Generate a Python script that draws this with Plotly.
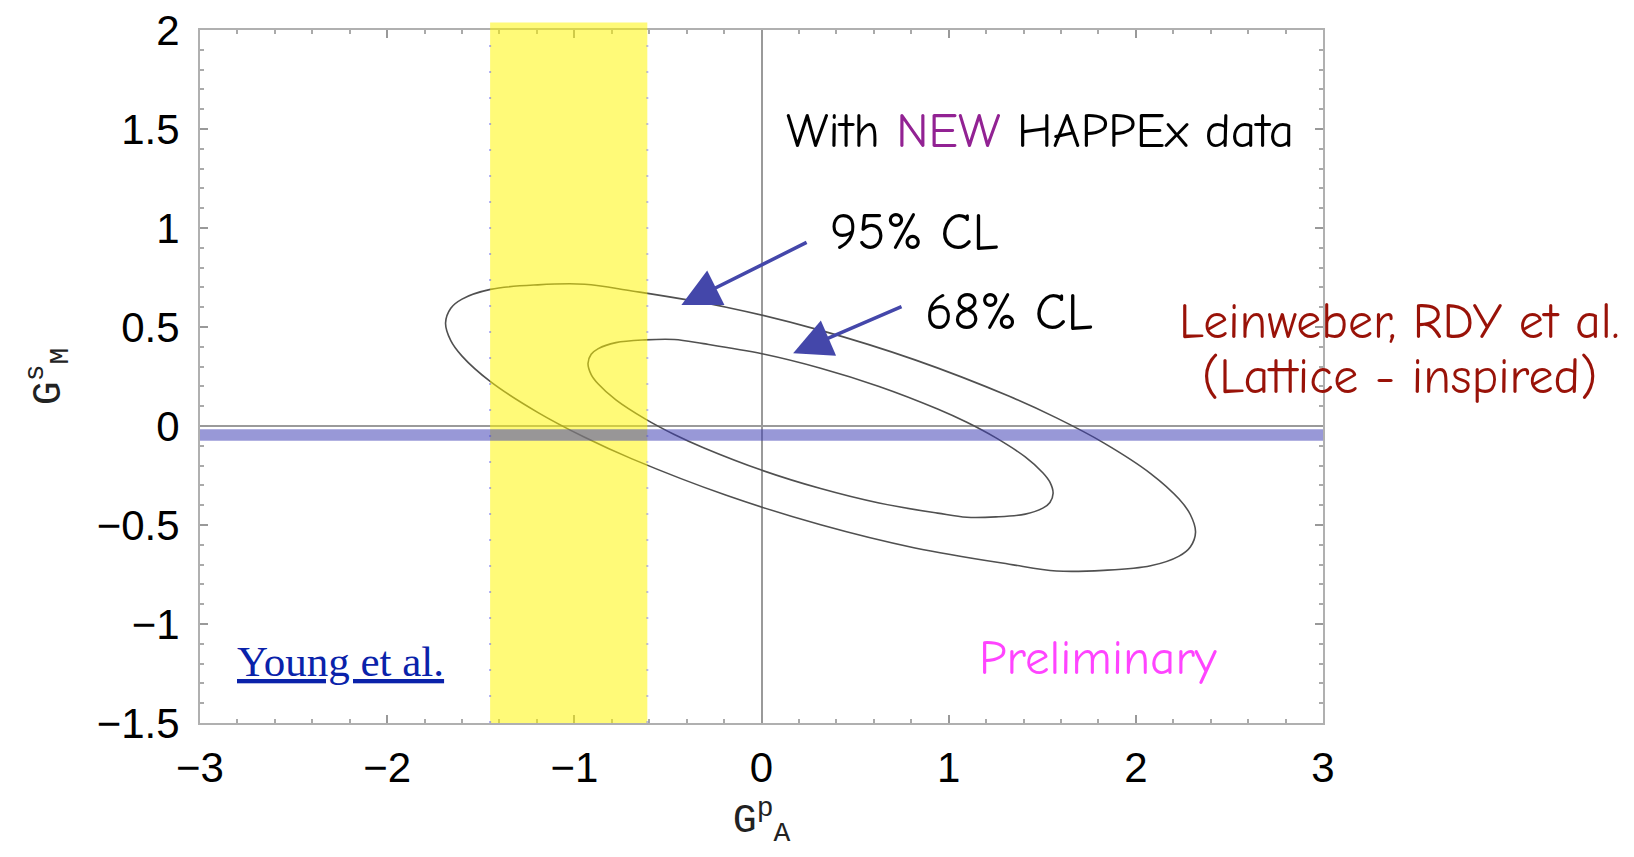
import plotly.graph_objects as go

# ---------------- data ----------------
# 95% CL contour (G_A^p, G_M^s)
cl95_x = [0.316, -0.188, -0.692, -0.945, -1.196, -1.448, -1.600, -1.660, -1.688, -1.660, -1.600,
          -1.448, -1.196, -0.945, -0.692, -0.188, 0.316, 0.820, 1.324, 1.576, 1.828, 2.079, 2.231,
          2.291, 2.319, 2.291, 2.231, 2.079, 1.828, 1.576, 1.324, 0.820, 0.316]
cl95_y = [0.483, 0.600, 0.682, 0.716, 0.713, 0.690, 0.641, 0.595, 0.520, 0.431, 0.353,
          0.224, 0.069, -0.057, -0.166, -0.350, -0.499, -0.616, -0.698, -0.732, -0.729, -0.706, -0.657,
          -0.611, -0.536, -0.447, -0.369, -0.240, -0.085, 0.041, 0.150, 0.334, 0.483]
# 68% CL contour
cl68_x = [0.316, 0.003, -0.310, -0.466, -0.622, -0.778, -0.872, -0.910, -0.927, -0.910, -0.872,
          -0.778, -0.622, -0.466, -0.310, 0.003, 0.316, 0.628, 0.941, 1.097, 1.253, 1.409, 1.503,
          1.541, 1.558, 1.541, 1.503, 1.409, 1.253, 1.097, 0.941, 0.628, 0.316]
cl68_y = [0.292, 0.365, 0.416, 0.437, 0.435, 0.421, 0.391, 0.362, 0.316, 0.260, 0.212,
          0.132, 0.036, -0.043, -0.110, -0.224, -0.316, -0.389, -0.440, -0.461, -0.459, -0.445, -0.415,
          -0.386, -0.340, -0.284, -0.236, -0.156, -0.060, 0.019, 0.086, 0.200, 0.292]

# Young et al. band in G_A^p (yellow) and Leinweber et al. band in G_M^s (blue)
young_band_x = [-1.45, -0.61]
lattice_band_y = [-0.074, -0.017]

# arrows: [tail_x, tail_y, head_x, head_y]
arrow95 = [0.249, 0.931, -0.428, 0.611]
arrow68 = [0.756, 0.606, 0.169, 0.367]

x_range = [-3, 3]
y_range = [-1.5, 2]
x_tickvals = [-3, -2, -1, 0, 1, 2, 3]
x_ticktext = ["\u22123", "\u22122", "\u22121", "0", "1", "2", "3"]
y_tickvals = [-1.5, -1, -0.5, 0, 0.5, 1, 1.5, 2]
y_ticktext = ["\u22121.5", "\u22121", "\u22120.5", "0", "0.5", "1", "1.5", "2"]

# ---------------- figure ----------------
comic = "Comic Sans MS, Comic Neue, Lato, sans-serif"
fig = go.Figure()

for xs, ys in [(cl95_x, cl95_y), (cl68_x, cl68_y)]:
    fig.add_trace(go.Scatter(x=xs, y=ys, mode="lines",
                             line=dict(color="#505050", width=1.6, shape="spline", smoothing=1.0),
                             hoverinfo="skip", showlegend=False))

shapes = [
    # yellow Young et al. band (slightly overshooting the top of the frame)
    dict(type="rect", xref="x", yref="paper", x0=young_band_x[0], x1=young_band_x[1],
         y0=0, y1=1.011, fillcolor="rgba(255,245,0,0.53)", line=dict(width=0), layer="above"),
    # dotted edges of the yellow band
    dict(type="line", xref="x", yref="paper", x0=young_band_x[0], x1=young_band_x[0],
         y0=0, y1=1, line=dict(color="rgba(110,110,235,0.55)", width=2, dash="2px,24px"), layer="above"),
    dict(type="line", xref="x", yref="paper", x0=young_band_x[1], x1=young_band_x[1],
         y0=0, y1=1, line=dict(color="rgba(110,110,235,0.45)", width=2, dash="2px,24px"), layer="above"),
    # blue lattice band
    dict(type="rect", xref="paper", yref="y", x0=0, x1=1,
         y0=lattice_band_y[0], y1=lattice_band_y[1],
         fillcolor="rgba(60,60,180,0.53)", line=dict(width=0), layer="above"),
]

annotations = [
    dict(x=arrow95[2], y=arrow95[3], ax=arrow95[0], ay=arrow95[1], xref="x", yref="y",
         axref="x", ayref="y", text="", showarrow=True, arrowhead=2, arrowsize=2.2,
         arrowwidth=3.5, arrowcolor="#4447AA"),
    dict(x=arrow68[2], y=arrow68[3], ax=arrow68[0], ay=arrow68[1], xref="x", yref="y",
         axref="x", ayref="y", text="", showarrow=True, arrowhead=2, arrowsize=2.2,
         arrowwidth=3.5, arrowcolor="#4447AA"),
    dict(x=1.49, y=1.49, xref="x", yref="y", showarrow=False, xanchor="center", yanchor="middle",
         text="With <span style='color:#922293'>NEW</span> HAPPEx data",
         font=dict(family=comic, size=49, color="black")),
    dict(x=0.354, y=0.98, xref="x", yref="y", showarrow=False, xanchor="left", yanchor="middle",
         text="95% CL", font=dict(family=comic, size=52, color="black")),
    dict(x=0.861, y=0.578, xref="x", yref="y", showarrow=False, xanchor="left", yanchor="middle",
         text="68% CL", font=dict(family=comic, size=52, color="black")),
    dict(x=1.068, y=0.525, xref="paper", yref="y", showarrow=False, xanchor="center", yanchor="middle",
         text="Leinweber, RDY et al.", font=dict(family=comic, size=50, color="#991208")),
    dict(x=1.068, y=0.250, xref="paper", yref="y", showarrow=False, xanchor="center", yanchor="middle",
         text="(Lattice - inspired)", font=dict(family=comic, size=50, color="#991208")),
    dict(x=1.80, y=-1.17, xref="x", yref="y", showarrow=False, xanchor="center", yanchor="middle",
         text="Preliminary", font=dict(family=comic, size=49, color="#FF44FF")),
    dict(x=-2.25, y=-1.19, xref="x", yref="y", showarrow=False, xanchor="center", yanchor="middle",
         text="<u>Young et al.</u>", font=dict(family="Liberation Serif, Times New Roman, serif",
                                              size=43, color="#0A22AA")),
]

axis_common = dict(
    automargin=False,
    showgrid=False, showline=True, linecolor="#b0b0b0", linewidth=2, mirror="allticks",
    ticks="inside", ticklen=8, tickwidth=1.5, tickcolor="#999999",
    zeroline=True, zerolinecolor="#9a9a9a", zerolinewidth=1.5,
    tickfont=dict(family="Liberation Sans, Arial, sans-serif", size=42, color="black"),
)

fig.update_layout(
    width=1634, height=857,
    margin=dict(l=200, r=310.5, t=30, b=134, autoexpand=False),
    paper_bgcolor="white", plot_bgcolor="white",
    shapes=shapes, annotations=annotations,
    xaxis=dict(range=x_range, tickvals=x_tickvals, ticktext=x_ticktext,
               minor=dict(dtick=0.2, ticks="inside", ticklen=4, tickcolor="#aaaaaa", showgrid=False),
               ticklabelstandoff=7,
               title=dict(text="G<sup>p</sup><sub>A</sub>", standoff=14,
                          font=dict(family="Liberation Mono, Courier New, monospace", size=40, color="#222")),
               **axis_common),
    yaxis=dict(range=y_range, tickvals=y_tickvals, ticktext=y_ticktext,
               minor=dict(dtick=0.1, ticks="inside", ticklen=4, tickcolor="#aaaaaa", showgrid=False),
               ticklabelstandoff=10,
               title=dict(text="G<sup>s</sup><sub>M</sub>", standoff=24,
                          font=dict(family="Liberation Mono, Courier New, monospace", size=40, color="#222")),
               **axis_common),
)

fig.write_html("out.html", config={"displayModeBar": False},
               post_script="document.body.style.margin='0';")
